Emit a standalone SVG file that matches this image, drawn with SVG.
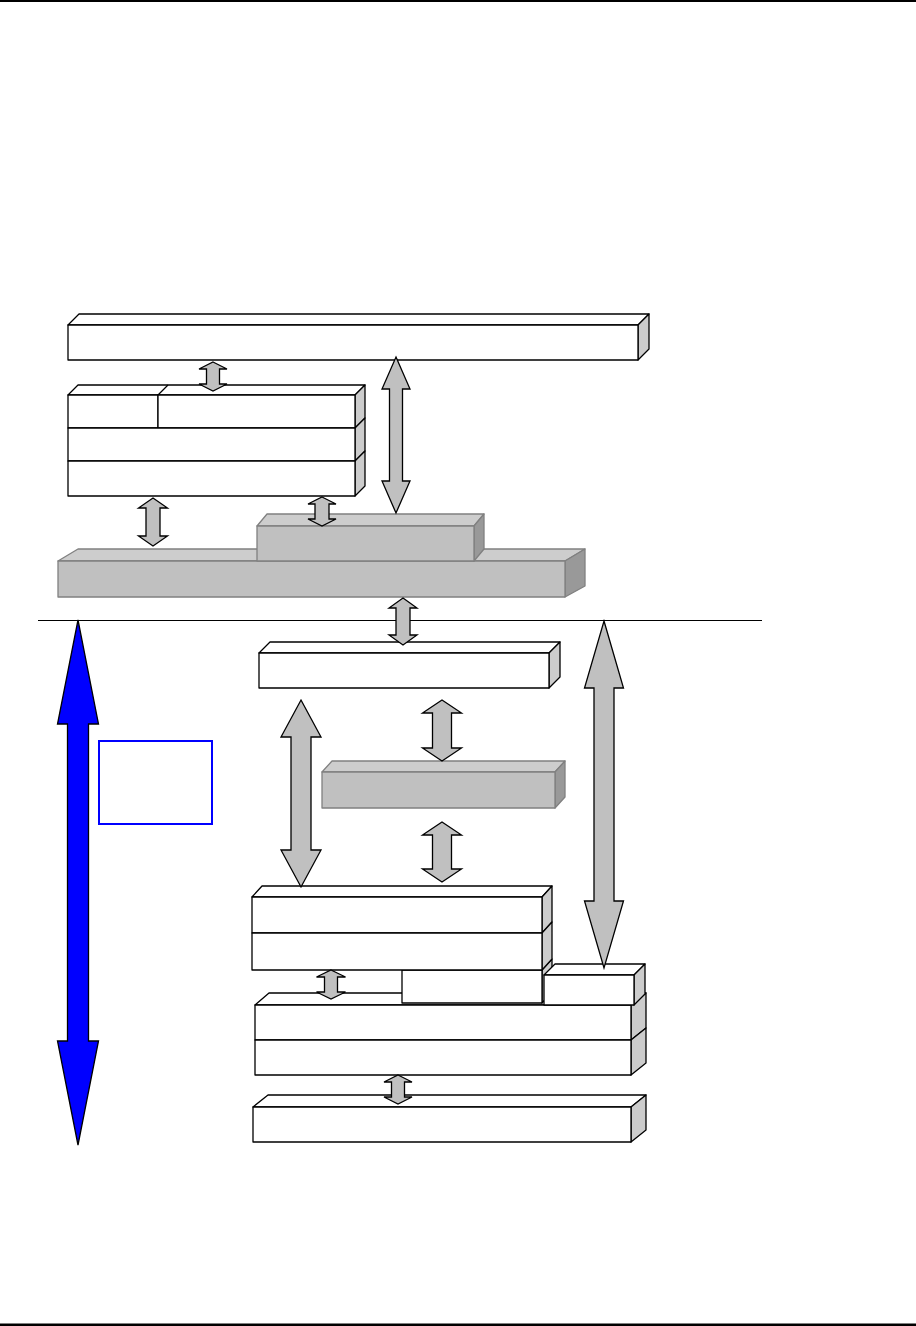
<svg xmlns="http://www.w3.org/2000/svg" width="916" height="1326" viewBox="0 0 916 1326">
<style>
.wf{fill:#ffffff;stroke:#000;stroke-width:1.3;stroke-linejoin:round}
.ws{fill:#cccccc;stroke:#000;stroke-width:1.3;stroke-linejoin:round}
.gf{fill:#c0c0c0;stroke:#808080;stroke-width:1.3;stroke-linejoin:round}
.gt{fill:#cdcdcd;stroke:#808080;stroke-width:1.3;stroke-linejoin:round}
.gs{fill:#999999;stroke:#808080;stroke-width:1.3;stroke-linejoin:round}
.arr{fill:#c0c0c0;stroke:#000;stroke-width:1.3;stroke-linejoin:miter}
.blue{fill:#0000ff;stroke:#000;stroke-width:1.3}
</style>
<rect x="0" y="0" width="916" height="2" fill="#000"/>
<rect x="0" y="1323.5" width="916" height="2.5" fill="#000"/>
<line x1="38" y1="620.5" x2="762" y2="620.5" stroke="#000" stroke-width="1.2"/>

<g id="boxA">
<polygon class="wf" points="68,325 79,314 649,314 638,325"/>
<polygon class="ws" points="638,325 649,314 649,349 638,360"/>
<rect class="wf" x="68" y="325" width="570" height="35"/>
</g>

<g id="boxB">
<polygon class="wf" points="68,395 78,385 365,385 355,395"/>
<line x1="158" y1="395" x2="168" y2="385" stroke="#000" stroke-width="1.3"/>
<polygon class="ws" points="355,395 365,385 365,418 355,428"/>
<polygon class="ws" points="355,428 365,418 365,451 355,461"/>
<polygon class="ws" points="355,461 365,451 365,486 355,496"/>
<rect class="wf" x="68" y="395" width="90" height="33"/>
<rect class="wf" x="158" y="395" width="197" height="33"/>
<rect class="wf" x="68" y="428" width="287" height="33"/>
<rect class="wf" x="68" y="461" width="287" height="35"/>
</g>

<g id="boxC">
<polygon class="gt" points="58,561 78,549 585,549 565,561"/>
<polygon class="gs" points="565,561 585,549 585,586 565,597"/>
<rect class="gf" x="58" y="561" width="507" height="36"/>
</g>

<g id="boxD">
<polygon class="gt" points="257,526 267,514 484,514 474,526"/>
<polygon class="gs" points="474,526 484,514 484,549 474,561"/>
<rect class="gf" x="257" y="526" width="217" height="35"/>
</g>

<g id="boxE">
<polygon class="wf" points="259,653 270,642 560,642 549,653"/>
<polygon class="ws" points="549,653 560,642 560,677 549,688"/>
<rect class="wf" x="259" y="653" width="290" height="35"/>
</g>

<g id="boxF">
<polygon class="gt" points="322,772 332,761 565,761 555,772"/>
<polygon class="gs" points="555,772 565,761 565,797 555,808"/>
<rect class="gf" x="322" y="772" width="233" height="36"/>
</g>

<g id="boxH">
<polygon class="wf" points="255,1005 269,993 646,993 631,1005"/>
<polygon class="ws" points="631,1005 646,993 646,1028 631,1040"/>
<polygon class="ws" points="631,1040 646,1028 646,1063 631,1075"/>
<rect class="wf" x="255" y="1005" width="376" height="35"/>
<rect class="wf" x="255" y="1040" width="376" height="35"/>
</g>

<g id="boxK">
<polygon class="ws" points="542,970 552,959 552,992 542,1003"/>
<rect class="wf" x="402" y="970" width="140" height="33"/>
</g>

<g id="boxG">
<polygon class="wf" points="252,897 262,886 552,886 542,897"/>
<polygon class="ws" points="542,897 552,886 552,922 542,933"/>
<polygon class="ws" points="542,933 552,922 552,959 542,970"/>
<rect class="wf" x="252" y="897" width="290" height="36"/>
<rect class="wf" x="252" y="933" width="290" height="37"/>
</g>

<g id="boxI">
<polygon class="wf" points="544,975 555,964 645,964 634,975"/>
<polygon class="ws" points="634,975 645,964 645,994 634,1005"/>
<rect class="wf" x="544" y="975" width="90" height="30"/>
</g>

<g id="boxJ">
<polygon class="wf" points="253,1107 268,1095 646,1095 631,1107"/>
<polygon class="ws" points="631,1107 646,1095 646,1130 631,1142"/>
<rect class="wf" x="253" y="1107" width="378" height="35"/>
</g>

<g id="legend">
<rect x="99" y="741" width="113" height="83" fill="none" stroke="#0000ff" stroke-width="2"/>
</g>

<g id="connectors">
<polygon class="arr" points="213,362 227,369 219.5,369 219.5,384 227,384 213,391 199,384 206.5,384 206.5,369 199,369"/>
<polygon class="arr" points="153,498 167.5,508 160,508 160,536 167.5,536 153,546 138.5,536 146,536 146,508 138.5,508"/>
<polygon class="arr" points="322,497 336,504 329,504 329,519 336,519 322,526 308,519 315,519 315,504 308,504"/>
<polygon class="arr" points="396,357 410,389 402.5,389 402.5,481 410,481 396,513 382,481 389.5,481 389.5,389 382,389"/>
<polygon class="arr" points="403,598 417,608 410,608 410,635 417,635 403,645 389,635 396,635 396,608 389,608"/>
<polygon class="arr" points="604,621 623.5,688 614,688 614,901 623.5,901 604,968 584.5,901 594,901 594,688 584.5,688"/>
<polygon class="arr" points="301,700 321,737 311,737 311,850 321,850 301,887 281,850 291,850 291,737 281,737"/>
<polygon class="arr" points="442,700 461.5,713 451.5,713 451.5,748 461.5,748 442,761 422.5,748 432.5,748 432.5,713 422.5,713"/>
<polygon class="arr" points="442,822 461.5,835 451.5,835 451.5,869 461.5,869 442,882 422.5,869 432.5,869 432.5,835 422.5,835"/>
<polygon class="arr" points="331,970 345.5,977 337.5,977 337.5,992 345.5,992 331,999 316.5,992 324.5,992 324.5,977 316.5,977"/>
<polygon class="arr" points="398,1075 412,1082 404.5,1082 404.5,1097 412,1097 398,1104 384,1097 391.5,1097 391.5,1082 384,1082"/>
<polygon class="blue" points="78,620 98.5,724 88.5,724 88.5,1041 98.5,1041 78,1145 57.5,1041 67.5,1041 67.5,724 57.5,724"/>
</g>
</svg>
